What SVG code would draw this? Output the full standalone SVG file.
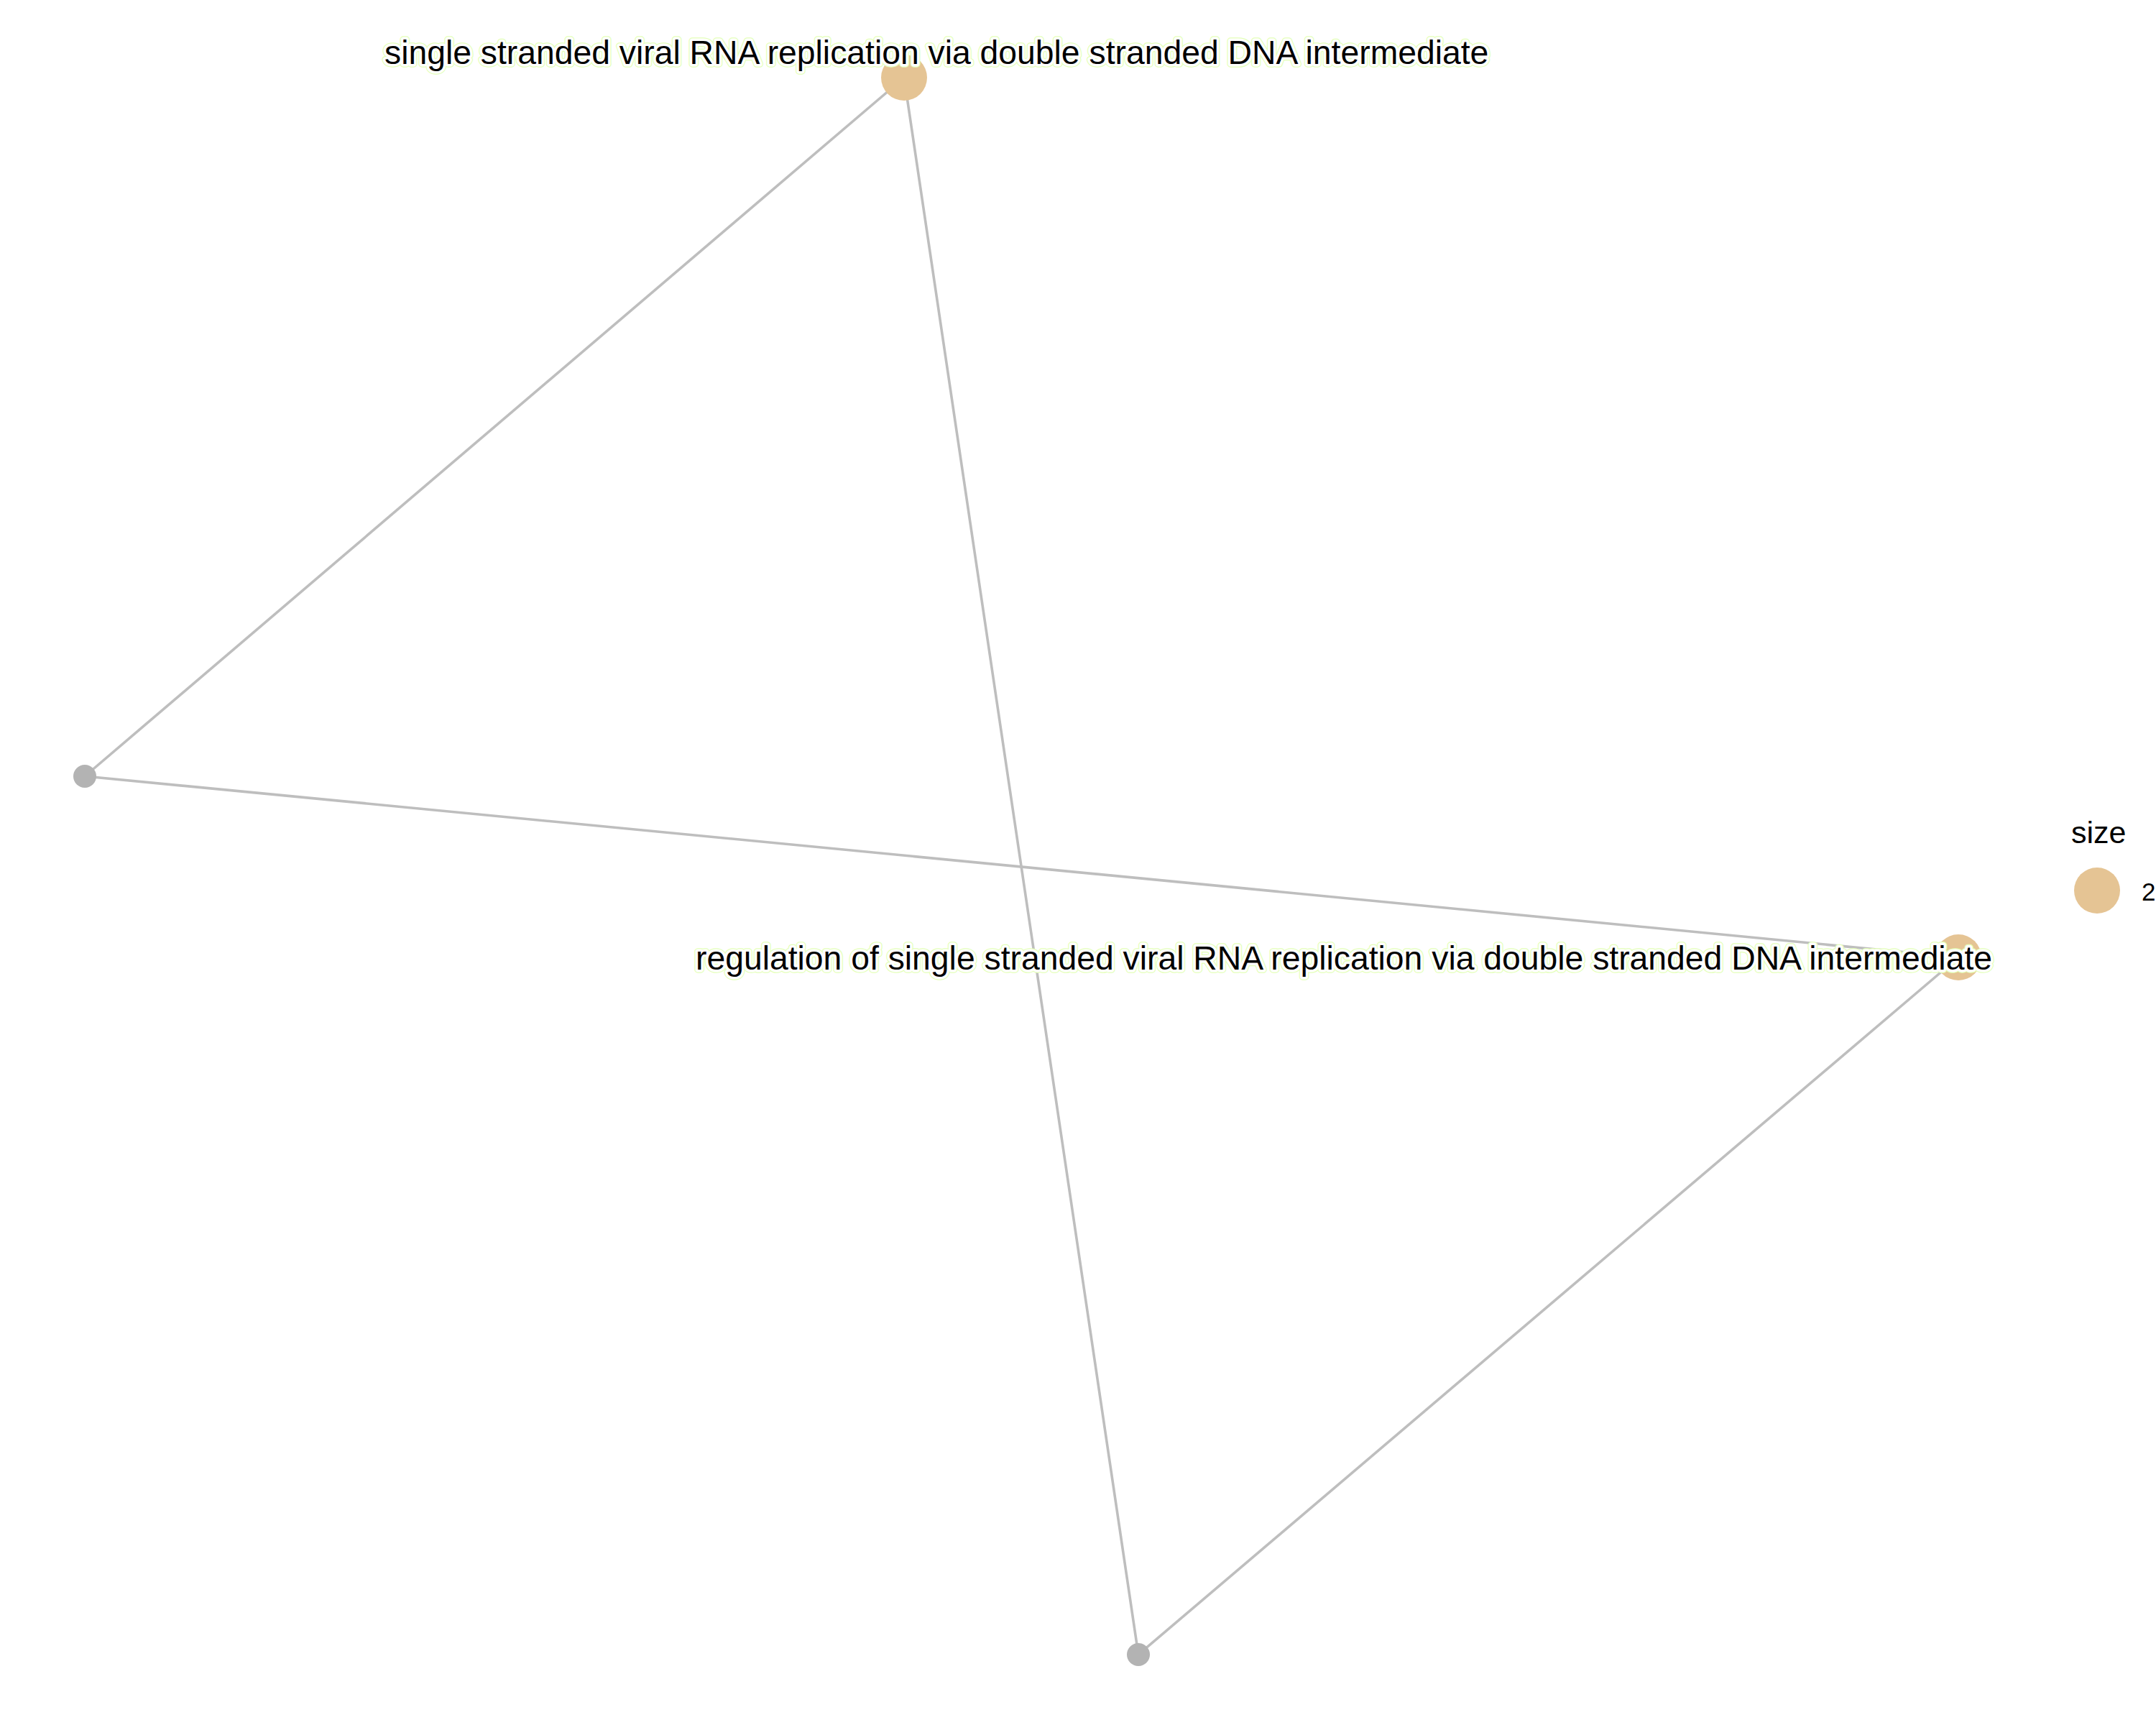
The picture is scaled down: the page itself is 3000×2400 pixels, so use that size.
<svg xmlns="http://www.w3.org/2000/svg" width="3000" height="2400" viewBox="0 0 3000 2400">
<style>
.edge{stroke:#bebebe;stroke-width:3.6;fill:none}
.gene{fill:#b3b3b3}
.term{fill:#e5c494}
.lbl{font-family:"Liberation Sans",Arial,sans-serif;font-size:46.3px;fill:#000;stroke:#fff;stroke-width:7;stroke-linejoin:round;paint-order:stroke}
.halo{font-family:"Liberation Sans",Arial,sans-serif;font-size:46.3px;fill:none;stroke:#e4ffb8;stroke-width:9.5;stroke-linejoin:round}
.leg{font-family:"Liberation Sans",Arial,sans-serif;fill:#000}
</style>
<rect width="3000" height="2400" fill="#fff"/>
<g id="connectors">
<line class="edge" x1="1258" y1="108" x2="118" y2="1080"/>
<line class="edge" x1="1258" y1="108" x2="1584" y2="2302"/>
<line class="edge" x1="118" y1="1080" x2="2725" y2="1332"/>
<line class="edge" x1="2725" y1="1332" x2="1584" y2="2302"/>
</g>
<g id="node-left"><circle class="gene" cx="118" cy="1080" r="16"/></g>
<g id="node-bottom"><circle class="gene" cx="1584" cy="2302" r="16"/></g>
<g id="node-top"><circle class="term" cx="1258" cy="108" r="32"/></g>
<g id="node-right"><circle class="term" cx="2725" cy="1332" r="32"/></g>
<g id="label-top">
<text class="halo" x="535" y="89">single stranded viral RNA replication via double stranded DNA intermediate</text>
<text class="lbl" x="535" y="89">single stranded viral RNA replication via double stranded DNA intermediate</text>
</g>
<g id="label-right">
<text class="halo" x="968" y="1349">regulation of single stranded viral RNA replication via double stranded DNA intermediate</text>
<text class="lbl" x="968" y="1349">regulation of single stranded viral RNA replication via double stranded DNA intermediate</text>
</g>
<g id="legend">
<text class="leg" x="2882" y="1173" font-size="43">size</text>
<circle class="term" cx="2918" cy="1239" r="32"/>
<text class="leg" x="2980" y="1253" font-size="35">2</text>
</g>
</svg>
